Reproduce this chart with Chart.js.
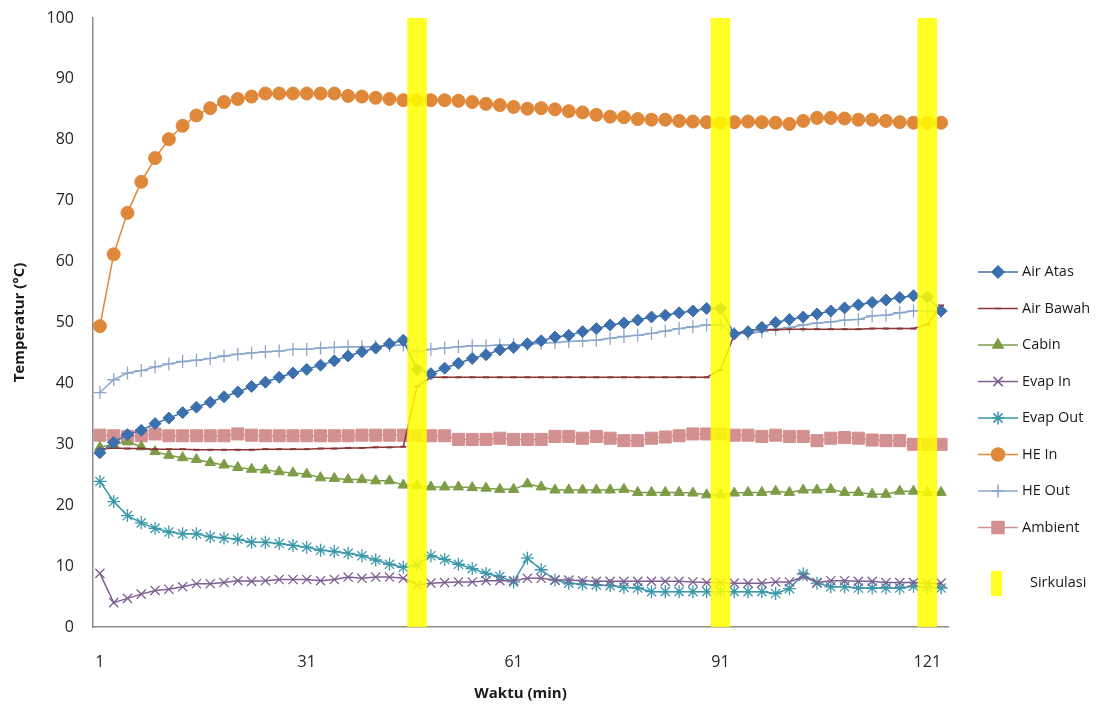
<!DOCTYPE html>
<html>
<head>
<meta charset="utf-8">
<script src="https://cdn.jsdelivr.net/npm/chart.js@4.4.0/dist/chart.umd.min.js"></script>
<style>
  html, body { margin: 0; padding: 0; background: #fff; }
  #wrap { width: 1110px; height: 711px; }
</style>
</head>
<body>
<div id="wrap"><canvas id="tempChart"></canvas></div>
<script>
// minutes (every 2 min)
const minutes = [1,3,5,7,9,11,13,15,17,19,21,23,25,27,29,31,33,35,37,39,41,43,45,47,49,51,53,55,57,59,
  61,63,65,67,69,71,73,75,77,79,81,83,85,87,89,91,93,95,97,99,101,103,105,107,109,111,113,115,117,119,121,123];
const shownTicks = [1, 31, 61, 91, 121];

const airAtas = [28.6,30.3,31.6,32.3,33.4,34.3,35.2,36.1,36.9,37.8,
  38.6,39.5,40.2,41.0,41.7,42.3,43.0,43.7,44.5,45.2,
  45.8,46.5,47.1,42.3,41.6,42.5,43.3,44.1,44.7,45.5,
  45.9,46.5,47.0,47.6,47.9,48.5,49.0,49.6,49.9,50.4,
  50.9,51.2,51.6,51.9,52.3,52.3,48.1,48.5,49.2,50.0,
  50.5,50.9,51.4,51.9,52.4,52.9,53.3,53.7,54.1,54.4,
  54.2,51.9];
const airBawah = [29.2,29.4,29.3,29.3,29.2,29.2,29.2,29.1,29.1,29.1,
  29.1,29.1,29.2,29.2,29.2,29.2,29.3,29.3,29.4,29.4,
  29.5,29.5,29.6,39.5,41.0,41.0,41.0,41.0,41.0,41.0,
  41.0,41.0,41.0,41.0,41.0,41.0,41.0,41.0,41.0,41.0,
  41.0,41.0,41.0,41.0,41.0,42.2,48.0,48.8,48.8,48.8,
  48.9,48.9,48.9,48.9,48.9,48.9,49.0,49.0,49.0,49.0,
  49.7,52.8];
const cabin = [29.5,30.0,30.4,29.6,28.8,28.2,27.8,27.5,27.0,26.6,
  26.2,25.9,25.8,25.5,25.3,25.1,24.5,24.4,24.2,24.2,
  24.0,24.0,23.3,23.2,23.0,23.0,23.0,22.9,22.8,22.6,
  22.6,23.5,23.0,22.5,22.5,22.5,22.5,22.5,22.6,22.1,
  22.1,22.1,22.1,22.0,21.7,21.7,22.0,22.1,22.1,22.3,
  22.1,22.5,22.5,22.6,22.1,22.1,21.8,21.8,22.3,22.3,
  22.1,22.1];
const evapIn = [8.8,4.0,4.7,5.4,6.0,6.2,6.6,7.1,7.1,7.3,
  7.6,7.5,7.6,7.8,7.8,7.8,7.6,7.8,8.2,8.0,
  8.2,8.2,8.0,6.9,7.2,7.3,7.4,7.4,7.6,7.6,
  7.6,8.0,8.0,7.7,7.7,7.6,7.5,7.5,7.5,7.5,
  7.5,7.5,7.5,7.4,7.3,7.3,7.2,7.2,7.2,7.4,
  7.4,8.3,7.3,7.6,7.6,7.5,7.5,7.3,7.3,7.3,
  7.2,7.2];
const evapOut = [23.9,20.6,18.3,17.1,16.2,15.6,15.3,15.3,14.8,14.6,
  14.4,13.9,13.9,13.7,13.4,13.1,12.6,12.4,12.1,11.7,
  11.0,10.3,9.8,10.2,11.7,11.1,10.3,9.6,8.8,8.3,
  7.4,11.3,9.4,7.7,7.2,7.0,6.9,6.8,6.5,6.4,
  5.8,5.8,5.8,5.8,5.8,5.8,5.8,5.8,5.8,5.5,
  6.3,8.7,7.2,6.6,6.6,6.4,6.4,6.4,6.4,6.7,
  6.5,6.4];
const heIn = [49.4,61.2,68.0,73.1,77.0,80.1,82.3,84.0,85.2,86.2,
  86.7,87.1,87.6,87.6,87.6,87.6,87.6,87.6,87.2,87.1,
  86.9,86.7,86.5,86.5,86.5,86.5,86.4,86.2,85.9,85.7,
  85.4,85.1,85.2,85.0,84.7,84.5,84.1,83.8,83.7,83.4,
  83.3,83.3,83.1,83.0,82.9,82.8,82.9,83.0,82.9,82.8,
  82.6,83.1,83.6,83.6,83.5,83.3,83.3,83.1,82.9,82.8,
  82.8,82.8];
const heOut = [38.5,40.6,41.7,42.1,42.7,43.2,43.6,43.8,44.1,44.5,
  44.8,45.0,45.2,45.3,45.6,45.6,45.8,45.9,46.0,46.0,
  46.0,46.2,46.3,45.2,45.6,45.8,46.0,46.2,46.2,46.3,
  46.3,46.4,46.6,46.7,46.9,47.0,47.1,47.4,47.7,47.9,
  48.2,48.6,49.0,49.3,49.6,49.6,48.2,48.2,48.5,48.9,
  49.2,49.6,49.9,50.1,50.4,50.5,51.1,51.2,51.6,51.9,
  51.9,51.8];
const ambient = [31.5,31.4,31.3,31.4,31.7,31.4,31.4,31.4,31.4,31.4,
  31.7,31.5,31.4,31.4,31.4,31.4,31.4,31.4,31.4,31.5,
  31.5,31.5,31.5,31.4,31.4,31.4,30.8,30.8,30.8,31.0,
  30.8,30.8,30.8,31.3,31.3,31.0,31.3,31.0,30.6,30.6,
  31.0,31.2,31.4,31.7,31.7,31.7,31.5,31.5,31.3,31.5,
  31.3,31.3,30.6,31.0,31.1,31.0,30.7,30.6,30.6,30.0,
  30.0,30.0];
// circulation moments (full-height bars)
const sirkulasiAt = [47, 91, 121];
const sirkulasiTop = 100;

const FONT = '"Open Sans", Lato, sans-serif';

function lineSet(label, data, color, style, radius, width) {
  return {
    type: 'line',
    label: label,
    data: data,
    borderColor: color,
    backgroundColor: color,
    borderWidth: 1.5,
    pointStyle: style,
    pointRadius: radius,
    pointBorderWidth: width || 1,
    pointBorderColor: color,
    pointBackgroundColor: color,
    tension: 0,
    order: 1
  };
}

const datasets = [
  lineSet('Air Atas', airAtas, '#3b6fad', 'rectRot', 6),
  lineSet('Air Bawah', airBawah, '#8e3537', 'line', 3, 2),
  lineSet('Cabin', cabin, '#7d9c46', 'triangle', 6),
  lineSet('Evap In', evapIn, '#7e5f92', 'crossRot', 6.5, 1.3),
  lineSet('Evap Out', evapOut, '#3a98aa', 'star', 6.5, 1.3),
  lineSet('HE In', heIn, '#e0883a', 'circle', 6.5),
  lineSet('HE Out', heOut, '#8ca7cc', 'cross', 6.5, 1.3),
  lineSet('Ambient', ambient, '#d29090', 'rect', 8.5),
  {
    type: 'bar',
    label: 'Sirkulasi',
    data: minutes.map(m => sirkulasiAt.includes(m) ? sirkulasiTop : null),
    backgroundColor: 'rgba(255,255,0,0.85)',
    borderWidth: 0,
    barThickness: 19,
    order: 0
  }
];

// legend drawn as Excel does: line + marker, text on the right
const excelLegend = {
  id: 'excelLegend',
  afterDraw(chart) {
    const ctx = chart.ctx;
    const x0 = 978, x1 = 1018, textX = 1022;
    let y = 272;
    ctx.save();
    ctx.font = '14.5px ' + FONT;
    ctx.textBaseline = 'middle';
    ctx.fillStyle = '#1a1a1a';
    chart.data.datasets.forEach(ds => {
      if (ds.type === 'bar') {
        y += 19;
        ctx.fillStyle = ds.backgroundColor;
        ctx.fillRect(991, y - 12, 11, 25);
        ctx.fillStyle = '#1a1a1a';
        ctx.fillText(ds.label, 1030, y);
        return;
      }
      ctx.strokeStyle = ds.borderColor;
      ctx.lineWidth = 1.5;
      ctx.beginPath();
      ctx.moveTo(x0, y);
      ctx.lineTo(x1, y);
      ctx.stroke();
      ctx.fillStyle = ds.pointBackgroundColor;
      Chart.helpers.drawPoint(ctx, {
        pointStyle: ds.pointStyle,
        radius: ds.pointRadius,
        rotation: 0,
        borderWidth: ds.pointBorderWidth
      }, (x0 + x1) / 2, y);
      ctx.fillStyle = '#1a1a1a';
      ctx.fillText(ds.label, textX, y);
      y += 36.5;
    });
    ctx.restore();
  }
};

new Chart(document.getElementById('tempChart'), {
  type: 'bar',
  data: { labels: minutes, datasets: datasets },
  options: {
    responsive: true,
    maintainAspectRatio: false,
    animation: false,
    layout: { padding: { left: 0, right: 162, top: 18, bottom: 0 } },
    plugins: {
      legend: { display: false },
      tooltip: { enabled: false }
    },
    scales: {
      x: {
        offset: true,
        grid: { display: false, offset: true },
        border: { display: true, color: '#8c8c8c', width: 1.5 },
        ticks: {
          autoSkip: false,
          maxRotation: 0,
          padding: 18,
          color: '#262626',
          font: { family: FONT, size: 16 },
          callback: function(val, i) {
            const m = minutes[i];
            return shownTicks.includes(m) ? String(m) : '';
          }
        },
        title: {
          display: true,
          text: 'Waktu (min)',
          color: '#1a1a1a',
          font: { family: FONT, size: 15, weight: 'bold' },
          padding: { top: 0, bottom: 8 }
        },
        afterFit: function(scale) { scale.height = 84; }
      },
      y: {
        min: 0,
        max: 100,
        grid: { display: false },
        border: { display: true, color: '#8c8c8c', width: 1.5 },
        ticks: {
          stepSize: 10,
          padding: 11,
          color: '#262626',
          font: { family: FONT, size: 16 }
        },
        title: {
          display: true,
          text: 'Temperatur (°C)',
          color: '#1a1a1a',
          font: { family: FONT, size: 15, weight: 'bold' },
          padding: { top: 11, bottom: 0 }
        },
        afterFit: function(scale) {
          scale.width = 93;
          scale.paddingTop = 0;
          scale.paddingBottom = 0;
        }
      }
    }
  },
  plugins: [excelLegend]
});
</script>
</body>
</html>
